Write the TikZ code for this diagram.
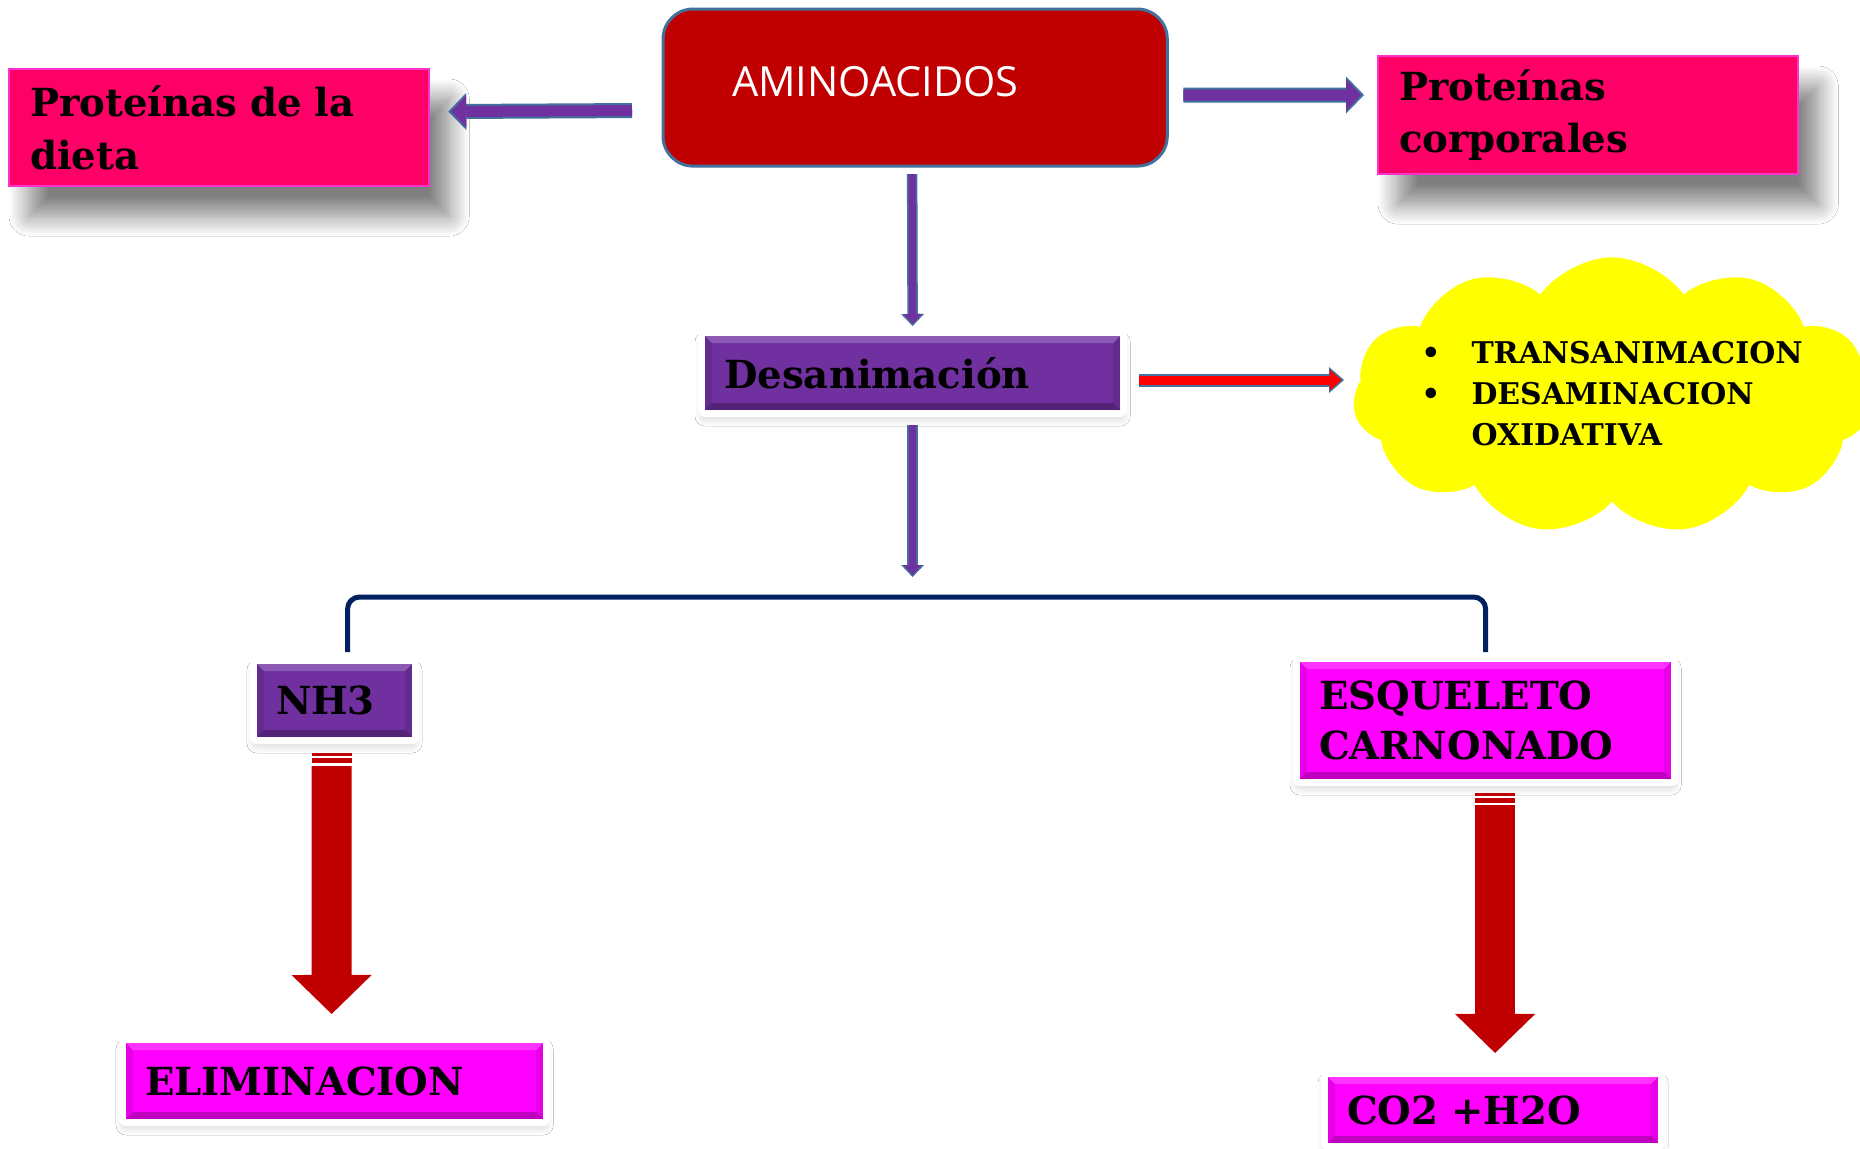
\documentclass[tikz,border=0pt]{standalone}
\usepackage{fontspec}
\usetikzlibrary{arrows.meta,calc,shapes.symbols,shadows.blur}
\newfontfamily\negrita{DejaVu Serif}
\newfontfamily\comic{Open Sans}
\definecolor{rosa}{HTML}{FF0066}
\definecolor{rosaborde}{HTML}{FF33CC}
\definecolor{vino}{HTML}{C00000}
\definecolor{azulborde}{HTML}{41719C}
\definecolor{morado}{HTML}{7030A0}
\definecolor{fucsia}{HTML}{FF00FF}
\definecolor{amarillo}{HTML}{FFFF00}
\definecolor{marino}{HTML}{002060}
\definecolor{rojo}{HTML}{FF0000}

\tikzset{
  caja/.style={rectangle, anchor=north west, align=left, inner ysep=0.5mm, outer sep=0pt,
    font=\negrita\bfseries\fontsize{11}{15}\selectfont},
  bisel/.style={path picture={
      \fill[white,opacity=.2] (path picture bounding box.north west) -- (path picture bounding box.north east)
        -- ([xshift=-0.7mm,yshift=-0.7mm]path picture bounding box.north east) -- ([xshift=0.7mm,yshift=-0.7mm]path picture bounding box.north west) -- cycle;
      \fill[black,opacity=.25] (path picture bounding box.south west) -- (path picture bounding box.south east)
        -- ([xshift=-0.7mm,yshift=0.7mm]path picture bounding box.south east) -- ([xshift=0.7mm,yshift=0.7mm]path picture bounding box.south west) -- cycle;
      \fill[black,opacity=.1] (path picture bounding box.north west) -- ([xshift=0.7mm,yshift=-0.7mm]path picture bounding box.north west)
        -- ([xshift=0.7mm,yshift=0.7mm]path picture bounding box.south west) -- (path picture bounding box.south west) -- cycle;
      \fill[black,opacity=.1] (path picture bounding box.north east) -- ([xshift=-0.7mm,yshift=-0.7mm]path picture bounding box.north east)
        -- ([xshift=-0.7mm,yshift=0.7mm]path picture bounding box.south east) -- (path picture bounding box.south east) -- cycle;
    }},
  rosada/.style={caja, fill=rosa, draw=rosaborde, line width=0.2mm, inner xsep=2.1mm,
    blur shadow={shadow xshift=2mm, shadow yshift=-3mm, shadow blur radius=2mm,
      shadow blur steps=16, shadow opacity=50}},
  marco/.style={caja, fill=#1, inner xsep=1.9mm, bisel,
    blur shadow={shadow xshift=0mm, shadow yshift=-0.6mm, shadow blur radius=1mm,
      shadow blur steps=10, shadow opacity=25},
    preaction={draw=white, line width=1.4mm, line join=round}},
  flecha/.style={draw=morado, line width=1.1mm, shorten >=0.3mm,
    -{Triangle[width=3.2mm,length=1.5mm,line width=0pt]},
    preaction={draw=azulborde, line width=1.5mm, shorten >=0mm, -{Triangle[width=3.7mm,length=1.8mm,line width=0pt]}}},
  flechav/.style={draw=morado, line width=0.7mm, shorten >=0.2mm,
    -{Triangle[width=1.8mm,length=1mm,line width=0pt]},
    preaction={draw=azulborde, line width=1.05mm, shorten >=0mm, -{Triangle[width=2.3mm,length=1.2mm,line width=0pt]}}},
  flecharoja/.style={draw=rojo, line width=0.9mm, shorten >=0.25mm,
    -{Triangle[width=2.1mm,length=1.2mm,line width=0pt]},
    preaction={draw=azulborde, line width=1.3mm, shorten >=0mm, -{Triangle[width=2.6mm,length=1.5mm,line width=0pt]}}},
  gruesa/.style={draw=vino, line width=4mm, -{Triangle[width=8mm,length=3.9mm,line width=0pt]}},
  raya/.style={draw=vino, line width=4mm},
  llave/.style={draw=marino, line width=0.5mm, rounded corners=1.2mm},
  nube/.style={cloud, cloud puffs=11, cloud puff arc=110, cloud ignores aspect, fill=amarillo,
    inner xsep=-1.1mm, inner ysep=1.3mm,
    font=\negrita\bfseries\fontsize{8.5}{11.7}\selectfont}
}

\begin{document}
\begin{tikzpicture}[x=0.01cm,y=-0.01cm]
  \path[fill=white] (0,0) rectangle (1860,1148);
  \useasboundingbox (0,0) rectangle (1860,1148);

  % cajas de arriba
  \node[rosada, minimum width=42mm, minimum height=11.7mm, text width=37.8mm] (dieta) at (9,69) {Proteínas de la\\dieta};
  \node[rosada, minimum width=42mm, minimum height=11.8mm, text width=37.8mm] (corp) at (1378,56) {Proteínas\\corporales};
  \node[anchor=north west, fill=vino, draw=azulborde, line width=0.3mm, rounded corners=3mm, outer sep=0pt,
        minimum width=50.4mm, minimum height=15.7mm, inner xsep=6.9mm, text width=36.6mm, align=left,
        text depth=1.3mm, text=white, font=\comic\fontsize{11.8}{13}\selectfont] (amino) at (663,9) {AMINOACIDOS};

  % proceso
  \node[marco=morado, minimum width=41.5mm, minimum height=7.4mm, text width=37.7mm] (desan) at (705,336) {Desanimación};
  \node[nube] (nube) at (1612,396) {\begin{tabular}{@{}l@{\hspace{3.1mm}}l@{}}
      \textbullet & TRANSANIMACION\\
      \textbullet & DESAMINACION\\
                  & OXIDATIVA
    \end{tabular}};

  % productos
  \node[marco=morado, minimum width=15.5mm, minimum height=7.3mm, text width=11.7mm] (nh3) at (257,664) {NH3};
  \node[marco=fucsia, minimum width=37.1mm, minimum height=11.7mm, text width=33.3mm,
        font=\negrita\bfseries\fontsize{11}{14.2}\selectfont] (esq) at (1300,662) {ESQUELETO\\CARNONADO};
  \node[marco=fucsia, minimum width=41.7mm, minimum height=7.6mm, text width=37.9mm] (elim) at (126,1043) {ELIMINACION};
  \node[marco=fucsia, minimum width=33mm, minimum height=6.6mm, text width=29.2mm] (co2) at (1328,1077) {CO2 +H2O};

  % conectores
  \draw[flecha] ($(amino.west)+(-31,23)$) -- ($(dieta.east)+(19,-16)$);
  \draw[flecha] ($(amino.east)+(16,7.5)$) -- ($(corp.west)+(-14,-20)$);
  \draw[flechav] ($(amino.south)+(-3,8)$) -- ($(desan.north)+(0,-10)$);
  \draw[flecharoja] ($(desan.east)+(19,7)$) -- ($(desan.east -| nube.center)+(-268,7)$);
  \draw[flechav] ($(desan.south)+(0,15)$) -- ($(desan.south |- esq.north)+(0,-85)$);
  \draw[llave] ($(nh3.north)+(13,-12)$) |- ($(esq.north)+(0,-65)$) -- ($(esq.north)+(0,-10)$);

  \draw[raya] ($(nh3.south)+(-3,16)$) -- ++(0,3);
  \draw[raya] ($(nh3.south)+(-3,21)$) -- ++(0,5);
  \draw[gruesa] ($(nh3.south)+(-3,29)$) -- ($(elim.north)+(-3,-29)$);
  \draw[raya] ($(co2.north |- esq.south)+(2,14)$) -- ++(0,3);
  \draw[raya] ($(co2.north |- esq.south)+(2,19)$) -- ++(0,5);
  \draw[gruesa] ($(co2.north |- esq.south)+(2,26)$) -- ($(co2.north)+(2,-24)$);
\end{tikzpicture}
\end{document}
